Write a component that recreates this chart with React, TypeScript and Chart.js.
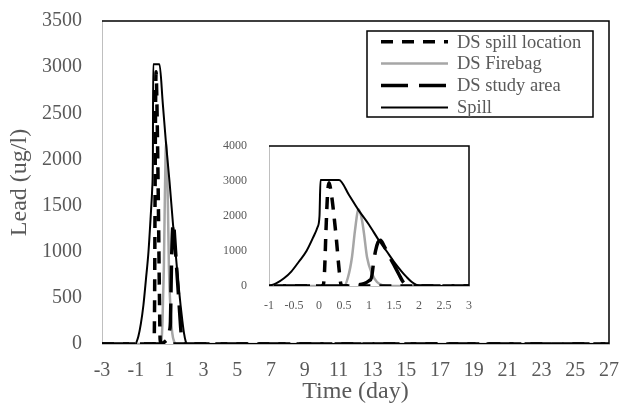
import React, { useEffect, useRef } from 'react';
import { Chart, registerables } from 'chart.js';

Chart.register(...registerables);

// ---------- data ----------
const seriesNames = ['DS spill location', 'DS Firebag', 'DS study area', 'Spill'];

const spillLocX = [-3, 0.08, 0.11, 0.14, 0.17, 0.2, 0.25, 0.3, 0.35, 0.4, 0.44, 0.5, 27];
const spillLocY = [0, 0, 400, 1600, 2600, 2950, 2600, 2000, 1300, 500, 50, 0, 0];

const firebagX = [-3, 0.5, 0.58, 0.66, 0.72, 0.79, 0.86, 0.9, 0.96, 1.06, 1.16, 1.28, 1.4, 27];
const firebagY = [0, 0, 250, 830, 1590, 2190, 1880, 1500, 830, 350, 115, 20, 0, 0];

const studyX = [-3, 0.45, 0.6, 0.75, 0.9, 1.0, 1.05, 1.09, 1.13, 1.18, 1.23, 1.3, 1.4, 1.5, 1.6, 1.68, 1.75, 1.85, 27];
const studyY = [0, 0, 10, 30, 70, 150, 240, 650, 1000, 1250, 1310, 1150, 870, 600, 330, 120, 30, 0, 0];

const spillX = [-1, -0.85, -0.7, -0.55, -0.4, -0.25, -0.12, -0.03, 0.01, 0.03, 0.4, 0.6, 0.78, 1.0, 1.2, 1.35, 1.5, 1.65, 1.75, 1.85, 1.95, 2.05, 27];
const spillY = [0, 80, 220, 420, 700, 1000, 1380, 1680, 2000, 3030, 3030, 2600, 2190, 1750, 1300, 1000, 690, 420, 260, 120, 30, 0, 0];

const mainXMin = -3, mainXMax = 27, mainXStep = 2;
const mainYMin = 0, mainYMax = 3500, mainYStep = 500;
const insetXMin = -1, insetXMax = 3, insetXStep = 0.5;
const insetYMin = 0, insetYMax = 4000, insetYStep = 1000;

const xTitle = 'Time (day)';
const yTitle = 'Lead (ug/l)';

// ---------- styles ----------
const FONT = "'Liberation Serif', 'Times New Roman', serif";
const TXT = '#595959';
const AXIS = '#bfbfbf';

const toPts = (xs: number[], ys: number[]) => xs.map((x, i) => ({ x, y: ys[i] }));

function makeDatasets() {
  return [
    { label: seriesNames[0], data: toPts(spillLocX, spillLocY), borderColor: '#000', borderWidth: 3.5, borderDash: [12, 9], order: 2 },
    { label: seriesNames[1], data: toPts(firebagX, firebagY), borderColor: '#a6a6a6', borderWidth: 2.5, borderDash: [], order: 3 },
    { label: seriesNames[2], data: toPts(studyX, studyY), borderColor: '#000', borderWidth: 3.5, borderDash: [27, 11], order: 1 },
    { label: seriesNames[3], data: toPts(spillX, spillY), borderColor: '#000', borderWidth: 2, borderDash: [], order: 0 },
  ].map((d) => ({
    ...d,
    showLine: true,
    pointRadius: 0,
    fill: false,
    cubicInterpolationMode: 'monotone' as const,
    borderCapStyle: 'butt' as const,
  }));
}

const framePlugin = {
  id: 'frame',
  afterDatasetsDraw(chart: any) {
    const { ctx, chartArea } = chart;
    const { left, right, top, bottom } = chartArea;
    ctx.save();
    ctx.strokeStyle = '#000';
    ctx.lineWidth = 1.5;
    ctx.setLineDash([]);
    ctx.beginPath();
    ctx.moveTo(left, top);
    ctx.lineTo(right, top);
    ctx.lineTo(right, bottom);
    ctx.stroke();
    ctx.restore();
  },
};

const boxLegendPlugin = {
  id: 'boxLegend',
  afterDraw(chart: any) {
    const { ctx, chartArea } = chart;
    const x0 = chartArea.left + 265;
    const y0 = chartArea.top + 10;
    const w = 226;
    const h = 86;
    ctx.save();
    ctx.fillStyle = '#fff';
    ctx.fillRect(x0, y0, w, h);
    ctx.strokeStyle = '#000';
    ctx.lineWidth = 1.5;
    ctx.setLineDash([]);
    ctx.strokeRect(x0, y0, w, h);
    chart.data.datasets.forEach((ds: any, i: number) => {
      const yy = y0 + 10.7 + i * 21.9;
      ctx.beginPath();
      ctx.strokeStyle = ds.borderColor;
      ctx.lineWidth = ds.borderWidth;
      ctx.lineCap = 'butt';
      ctx.setLineDash(ds.borderDash || []);
      ctx.moveTo(x0 + 14, yy);
      ctx.lineTo(x0 + 81, yy);
      ctx.stroke();
      ctx.setLineDash([]);
      ctx.fillStyle = TXT;
      ctx.font = `18.5px ${FONT}`;
      ctx.textBaseline = 'middle';
      ctx.textAlign = 'left';
      ctx.fillText(ds.label, x0 + 90, yy + 1);
    });
    ctx.restore();
  },
};

const fitX = (h: number) => (s: any) => { s.height = h; s.paddingLeft = 0; s.paddingRight = 0; };
const fitY = (w: number) => (s: any) => { s.width = w; s.paddingTop = 0; s.paddingBottom = 0; };

export default function App() {
  const mainRef = useRef<HTMLCanvasElement>(null);
  const insetRef = useRef<HTMLCanvasElement>(null);

  useEffect(() => {
    const main = new Chart(mainRef.current as HTMLCanvasElement, {
      type: 'scatter',
      data: { datasets: makeDatasets() as any },
      plugins: [framePlugin, boxLegendPlugin],
      options: {
        animation: false,
        responsive: false,
        events: [],
        layout: { padding: { top: 21, right: 12, left: 0, bottom: 0 } },
        plugins: { legend: { display: false }, tooltip: { enabled: false } },
        scales: {
          x: {
            type: 'linear',
            min: mainXMin,
            max: mainXMax,
            ticks: { stepSize: mainXStep, autoSkip: false, maxRotation: 0, padding: 15, color: TXT, font: { family: FONT, size: 20 } },
            grid: { display: false, drawTicks: false },
            border: { display: true, color: AXIS, width: 1 },
            title: { display: true, text: xTitle, color: TXT, font: { family: FONT, size: 24, lineHeight: 1 }, padding: { top: 0, bottom: 0 } },
            afterFit: fitX(60),
          },
          y: {
            type: 'linear',
            min: mainYMin,
            max: mainYMax,
            ticks: { stepSize: mainYStep, padding: 20, color: TXT, font: { family: FONT, size: 20 }, callback: (v: any) => String(v) },
            grid: { display: false, drawTicks: false },
            border: { display: true, color: AXIS, width: 1 },
            title: { display: true, text: yTitle, color: TXT, font: { family: FONT, size: 24, lineHeight: 1 }, padding: { top: 8, bottom: 0 } },
            afterFit: fitY(102),
          },
        },
      } as any,
    });

    const inset = new Chart(insetRef.current as HTMLCanvasElement, {
      type: 'scatter',
      data: { datasets: makeDatasets() as any },
      plugins: [framePlugin],
      options: {
        animation: false,
        responsive: false,
        events: [],
        layout: { padding: { top: 16, right: 11, left: 0, bottom: 0 } },
        plugins: { legend: { display: false }, tooltip: { enabled: false } },
        scales: {
          x: {
            type: 'linear',
            min: insetXMin,
            max: insetXMax,
            ticks: { stepSize: insetXStep, autoSkip: false, maxRotation: 0, padding: 13, color: TXT, font: { family: FONT, size: 12 }, callback: (v: any) => String(v) },
            grid: { display: false, drawTicks: false },
            border: { display: true, color: AXIS, width: 1 },
            afterFit: fitX(34),
          },
          y: {
            type: 'linear',
            min: insetYMin,
            max: insetYMax,
            ticks: { stepSize: insetYStep, padding: 22, color: TXT, font: { family: FONT, size: 12 }, callback: (v: any) => String(v) },
            grid: { display: false, drawTicks: false },
            border: { display: true, color: AXIS, width: 1 },
            afterFit: fitY(69),
          },
        },
      } as any,
    });

    return () => {
      main.destroy();
      inset.destroy();
    };
  }, []);

  return (
    <div style={{ position: 'absolute', left: 0, top: 0, width: 621, height: 404, background: '#fff' }}>
      <canvas ref={mainRef} width={621} height={404} style={{ position: 'absolute', left: 0, top: 0, display: 'block' }} />
      <canvas ref={insetRef} width={280} height={190} style={{ position: 'absolute', left: 200, top: 130, display: 'block' }} />
    </div>
  );
}
